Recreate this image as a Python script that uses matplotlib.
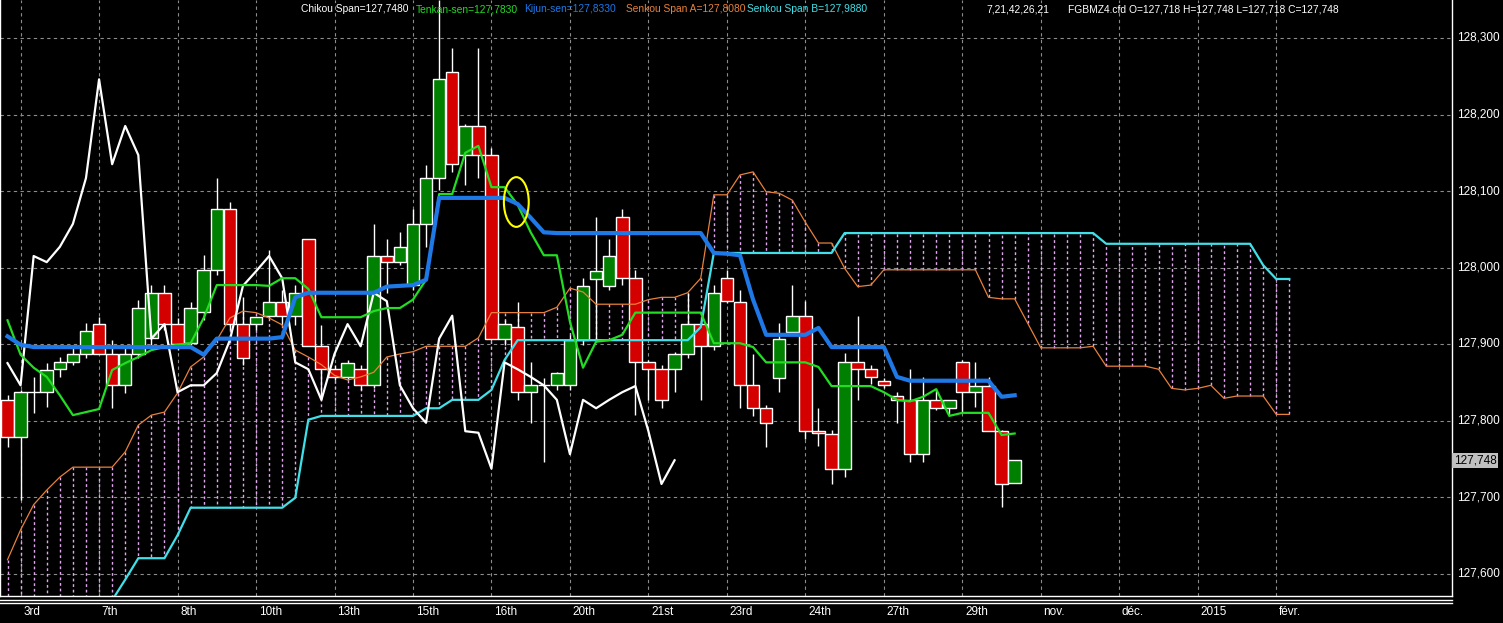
import matplotlib
matplotlib.use('Agg')
import matplotlib.pyplot as plt
import matplotlib.transforms as mtransforms
from matplotlib.patches import Ellipse, Rectangle
from matplotlib.lines import Line2D
from matplotlib import font_manager

# candles (FGBMZ4, one bar per slot)
opens = [127.827, 127.778, 127.837, 127.837, 127.867, 127.876, 127.887, 127.926, 127.887, 127.846,
         127.887, 127.908, 127.967, 127.926, 127.901, 127.942, 127.997, 128.076, 127.926, 127.926,
         127.937, 127.955, 127.937, 128.037, 127.897, 127.867, 127.857, 127.867, 127.846, 128.015,
         128.007, 127.977, 128.057, 128.117, 128.256, 128.147, 128.185, 128.147, 127.907, 127.922,
         127.837, 127.846, 127.846, 127.846, 127.905, 127.985, 127.976, 128.066, 127.986, 127.876,
         127.867, 127.867, 127.887, 127.926, 127.897, 127.986, 127.955, 127.846, 127.816, 127.856,
         127.916, 127.937, 127.786, 127.782, 127.737, 127.876, 127.867, 127.852, 127.832, 127.827,
         127.756, 127.827, 127.816, 127.876, 127.837, 127.845, 127.786, 127.718]
highs = [127.833, 127.840, 127.857, 127.875, 127.883, 127.899, 127.927, 127.935, 127.905, 127.896,
         127.958, 127.977, 127.977, 127.934, 127.955, 128.016, 128.117, 128.086, 127.961, 127.935,
         128.023, 127.971, 127.977, 128.037, 127.925, 127.873, 127.879, 127.873, 128.057, 128.037,
         128.046, 128.076, 128.134, 128.350, 128.287, 128.187, 128.287, 128.156, 127.931, 127.955,
         127.876, 127.856, 127.864, 127.912, 127.986, 128.066, 128.037, 128.076, 127.997, 127.879,
         127.873, 127.889, 127.967, 127.931, 127.977, 127.997, 127.971, 127.887, 127.820, 127.927,
         127.977, 127.956, 127.816, 127.787, 127.888, 127.937, 127.873, 127.856, 127.837, 127.867,
         127.857, 127.841, 127.827, 127.879, 127.876, 127.857, 127.787, 127.748]
lows = [127.765, 127.696, 127.810, 127.818, 127.857, 127.873, 127.882, 127.887, 127.816, 127.836,
        127.882, 127.899, 127.918, 127.892, 127.899, 127.931, 127.990, 127.918, 127.873, 127.918,
        127.934, 127.925, 127.925, 127.897, 127.827, 127.853, 127.853, 127.840, 127.842, 127.967,
        128.003, 127.971, 128.027, 128.101, 128.125, 128.108, 128.117, 127.905, 127.899, 127.827,
        127.797, 127.746, 127.840, 127.840, 127.899, 127.903, 127.971, 127.977, 127.807, 127.827,
        127.816, 127.837, 127.882, 127.827, 127.892, 127.953, 127.816, 127.806, 127.765, 127.837,
        127.912, 127.776, 127.767, 127.717, 127.726, 127.827, 127.848, 127.842, 127.797, 127.746,
        127.746, 127.814, 127.807, 127.811, 127.818, 127.786, 127.687, 127.718]
closes = [127.778, 127.837, 127.837, 127.866, 127.876, 127.887, 127.917, 127.887, 127.846, 127.887,
          127.947, 127.967, 127.926, 127.900, 127.947, 127.997, 128.076, 127.926, 127.882, 127.935,
          127.955, 127.937, 127.967, 127.897, 127.867, 127.857, 127.875, 127.846, 128.015, 128.007,
          128.027, 128.057, 128.117, 128.246, 128.135, 128.185, 128.147, 127.907, 127.926, 127.837,
          127.846, 127.846, 127.862, 127.905, 127.976, 127.995, 128.015, 127.986, 127.876, 127.867,
          127.827, 127.887, 127.926, 127.897, 127.967, 127.956, 127.846, 127.816, 127.797, 127.907,
          127.937, 127.786, 127.784, 127.737, 127.876, 127.867, 127.857, 127.846, 127.827, 127.756,
          127.827, 127.816, 127.827, 127.837, 127.845, 127.786, 127.717, 127.748]

tenkan = [127.931, 127.886, 127.869, 127.857, 127.833, 127.807, 127.811, 127.815, 127.866, 127.875,
          127.883, 127.892, 127.896, 127.899, 127.901, 127.934, 127.977, 127.977, 127.977, 127.977,
          127.976, 127.986, 127.986, 127.972, 127.935, 127.935, 127.935, 127.935, 127.943, 127.947,
          127.947, 127.958, 127.984, 128.096, 128.096, 128.150, 128.159, 128.105, 128.105, 128.082,
          128.046, 128.016, 128.016, 127.929, 127.869, 127.903, 127.905, 127.912, 127.941, 127.941,
          127.941, 127.941, 127.941, 127.941, 127.901, 127.901, 127.901, 127.896, 127.876, 127.876,
          127.876, 127.876, 127.870, 127.845, 127.845, 127.845, 127.845, 127.837, 127.827, 127.825,
          127.831, 127.841, 127.806, 127.810, 127.810, 127.810, 127.781, 127.783]
kijun = [127.910, 127.899, 127.896, 127.896, 127.896, 127.896, 127.896, 127.896, 127.896, 127.896,
         127.896, 127.896, 127.896, 127.896, 127.896, 127.886, 127.907, 127.907, 127.907, 127.907,
         127.907, 127.909, 127.961, 127.967, 127.967, 127.967, 127.967, 127.967, 127.967, 127.975,
         127.976, 127.977, 127.984, 128.091, 128.091, 128.091, 128.091, 128.091, 128.091, 128.083,
         128.065, 128.046, 128.045, 128.045, 128.045, 128.045, 128.045, 128.045, 128.045, 128.045,
         128.045, 128.045, 128.045, 128.045, 128.019, 128.018, 128.016, 127.958, 127.912, 127.912,
         127.912, 127.912, 127.921, 127.896, 127.896, 127.896, 127.896, 127.896, 127.857, 127.852,
         127.852, 127.852, 127.852, 127.852, 127.852, 127.852, 127.831, 127.833]

# cloud, already shifted 21 bars ahead (bars 0..98)
span_a = [127.618, 127.657, 127.690, 127.709, 127.726, 127.739, 127.739, 127.739, 127.739, 127.759,
          127.794, 127.807, 127.811, 127.836, 127.870, 127.883, 127.905, 127.934, 127.943, 127.941,
          127.934, 127.925, 127.892, 127.883, 127.873, 127.859, 127.853, 127.857, 127.863, 127.883,
          127.887, 127.890, 127.897, 127.897, 127.897, 127.897, 127.908, 127.941, 127.941, 127.941,
          127.941, 127.941, 127.948, 127.973, 127.968, 127.952, 127.952, 127.952, 127.952, 127.958,
          127.961, 127.961, 127.967, 127.986, 128.095, 128.095, 128.121, 128.125, 128.099, 128.097,
          128.088, 128.059, 128.032, 128.032, 127.999, 127.975, 127.977, 127.997, 127.997, 127.997,
          127.997, 127.997, 127.997, 127.997, 127.997, 127.961, 127.959, 127.959, 127.927, 127.895,
          127.895, 127.895, 127.895, 127.897, 127.871, 127.871, 127.871, 127.871, 127.867, 127.842,
          127.840, 127.842, 127.846, 127.829, 127.832, 127.832, 127.832, 127.808, 127.808]
span_b = [127.540, 127.540, 127.540, 127.540, 127.540, 127.540, 127.540, 127.540, 127.565, 127.592,
          127.620, 127.620, 127.620, 127.650, 127.686, 127.686, 127.686, 127.686, 127.686, 127.686,
          127.686, 127.686, 127.699, 127.801, 127.806, 127.806, 127.806, 127.806, 127.806, 127.806,
          127.806, 127.806, 127.816, 127.816, 127.827, 127.827, 127.827, 127.840, 127.879, 127.905,
          127.905, 127.905, 127.905, 127.905, 127.905, 127.905, 127.905, 127.905, 127.905, 127.905,
          127.905, 127.905, 127.905, 127.922, 128.019, 128.019, 128.019, 128.019, 128.019, 128.019,
          128.019, 128.019, 128.019, 128.019, 128.045, 128.045, 128.045, 128.045, 128.045, 128.045,
          128.045, 128.045, 128.045, 128.045, 128.045, 128.045, 128.045, 128.045, 128.045, 128.045,
          128.045, 128.045, 128.045, 128.045, 128.031, 128.031, 128.031, 128.031, 128.031, 128.031,
          128.031, 128.031, 128.031, 128.031, 128.031, 128.031, 128.003, 127.985, 127.985]
chikou_shift = 26

day_labels = ['3rd', '7th', '8th', '10th', '13th', '15th', '16th', '20th', '21st', '23rd',
              '24th', '27th', '29th', 'nov.', 'déc.', '2015', 'févr.']
label_bars = list(range(1, 98, 6))
price_ticks = [127.6, 127.7, 127.8, 127.9, 128.0, 128.1, 128.2, 128.3]
last_price = 127.748

header = [
    (301, 'Chikou Span=127,7480', 'white'),
    (416, 'Tenkan-sen=127,7830', '#22dd22'),
    (524, 'Kijun-sen=127,8330', '#1e78e6'),
    (626, 'Senkou Span A=127,8080', '#e8803a'),
    (747, 'Senkou Span B=127,9880', '#40e0e8'),
    (986, '7,21,42,26,21', 'white'),
    (1068, 'FGBMZ4.cfd O=127,718 H=127,748 L=127,718 C=127,748', 'white'),
]

W, H = 1503, 623
plt.rcParams['font.family'] = ['Liberation Sans', 'DejaVu Sans']

# narrow face for the header if it is installed, else shrink the regular one
narrow = [f.name for f in font_manager.fontManager.ttflist if f.name == 'Liberation Sans Narrow']
head_font = dict(family='Liberation Sans Narrow', fontsize=8.6) if narrow else dict(fontsize=7.4)

fig = plt.figure(figsize=(W / 100, H / 100), dpi=100, facecolor='black')
ax = fig.add_axes([0, (H - 596) / H, 1452 / W, 596 / H])
ax.set_facecolor('black')

px = 13.08  # pixels per bar
ax.set_xlim(-7.5 / px, (1452 - 7.5) / px)
ax.set_ylim(128.3 - 558 / 765, 128.3 + 38 / 765)

# grid
for p in price_ticks:
    ax.axhline(p, color='#8c8c8c', lw=0.8, ls=(0, (3, 3)), zorder=0)
for b in label_bars:
    ax.axvline(b, color='#8c8c8c', lw=0.8, ls=(0, (3, 3)), zorder=0)

# cloud hatching
xs_cloud = list(range(len(span_a)))
ax.vlines(xs_cloud, span_a, span_b, colors='#e2a6ee', lw=1, ls=(0, (2, 2)), zorder=1)
ax.plot(xs_cloud, span_a, color='#e8803a', lw=0.9, zorder=5)
ax.plot(xs_cloud, span_b, color='#40e0e8', lw=1.6, zorder=5)

# candles
n = len(closes)
xs = list(range(n))
ax.vlines(xs, lows, highs, colors='white', lw=1, zorder=3)
for i in xs:
    o, c = opens[i], closes[i]
    col = '#008000' if c >= o else '#d40000'
    ax.add_patch(Rectangle((i - 0.48, min(o, c)), 0.96, max(abs(c - o), 0.0005),
                           facecolor=col, edgecolor='white', lw=1, zorder=4))

# chikou = close shifted back
ax.plot(xs[:n - chikou_shift], closes[chikou_shift:], color='white', lw=1.6, zorder=6)
ax.plot(xs, tenkan, color='#22dd22', lw=1.6, zorder=7)
ax.plot(xs, kijun, color='#1e78e6', lw=3, zorder=8)

ax.add_patch(Ellipse((38.9, 128.0856), 1.9, 0.065, fill=False, edgecolor='yellow', lw=1.5, zorder=9))

ax.spines['top'].set_visible(False)
for s in ['left', 'right', 'bottom']:
    ax.spines[s].set_color('white')
    ax.spines[s].set_linewidth(1)
ax.set_xticks([])
ax.set_yticks([])

ytr = mtransforms.blended_transform_factory(ax.transAxes, ax.transData)
for p in price_ticks:
    ax.text(1.0035, p, f'{p:.3f}'.replace('.', ','), transform=ytr, color='white',
            fontsize=8.5, va='center', ha='left', clip_on=False)
ax.text(1.0013, last_price, f'{last_price:.3f}'.replace('.', ','), transform=ytr, color='black',
        fontsize=8.5, va='center', ha='left', clip_on=False,
        bbox=dict(boxstyle='square,pad=0.15', facecolor='#c0c0c0', edgecolor='none'))

xtr = mtransforms.blended_transform_factory(ax.transData, ax.transAxes)
for b, lbl in zip(label_bars, day_labels):
    ax.text(b + 0.2, -16 / 596, lbl, transform=xtr, color='white', fontsize=8.5,
            va='center', ha='left', clip_on=False)

for y in (599.5, 602.5):
    fig.add_artist(Line2D([0, 1452 / W], [1 - y / H] * 2, color='white', lw=1))

for x, t, c in header:
    fig.text(x / W, 1 - 9 / H, t, color=c, va='center', ha='left', **head_font)

fig.savefig('out.png', dpi=100, facecolor='black')
